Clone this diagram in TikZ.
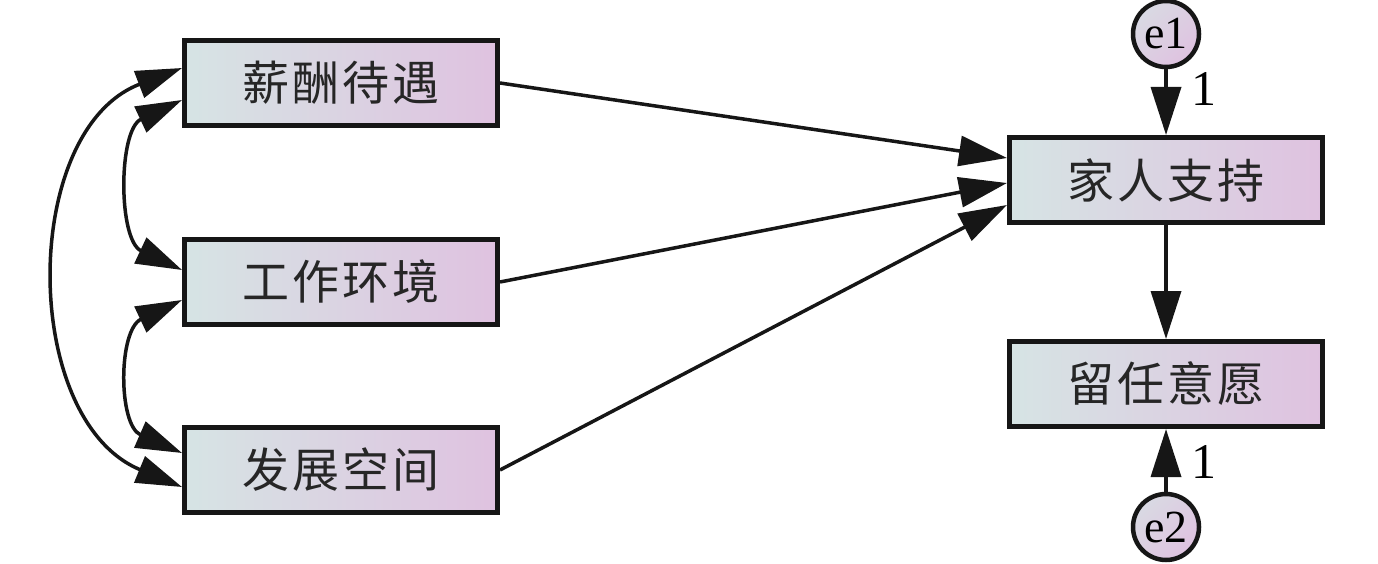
\documentclass[tikz,border=0pt]{standalone}
\usepackage{fontspec}
\setmainfont{Liberation Serif}
\newfontfamily\cjk{Noto Sans CJK SC}[LetterSpace=6]
\usetikzlibrary{arrows.meta}
\definecolor{lcol}{HTML}{D6E4E4}
\definecolor{rcol}{HTML}{DFC2E0}
\definecolor{edgecol}{HTML}{161616}
\tikzset{
  var/.style={draw=edgecol, line width=5pt, minimum width=313pt, minimum height=85pt,
    left color=lcol, right color=rcol, font=\cjk\fontsize{47}{50}\selectfont, text=black!85, inner sep=0pt},
  err/.style={circle, draw=edgecol, line width=4.5pt, minimum size=66pt, inner sep=0pt,
    shading=axis, left color=lcol!70!rcol, right color=rcol, shading angle=45, font=\fontsize{46}{48}\selectfont},
  arr/.style={line width=3.5pt, draw=edgecol, -{Triangle[length=48pt,width=30pt]}},
  cov/.style={line width=3.5pt, draw=edgecol, {Triangle[length=46pt,width=28pt]}-{Triangle[length=46pt,width=28pt]}},
  lab/.style={font=\fontsize{50}{52}\selectfont, inner sep=0pt}
}
\begin{document}
\begin{tikzpicture}[x=1pt,y=-1pt]
\useasboundingbox (0,0) rectangle (1378,564);
\node[var] (a) at (341,83) {薪酬待遇};
\node[var] (b) at (341,282) {工作环境};
\node[var] (c) at (341,470) {发展空间};
\node[var] (f) at (1166,180) {家人支持};
\node[var] (r) at (1166,384) {留任意愿};
\node[err] (e1) at (1166,34) {e1};
\node[err] (e2) at (1166,527) {e2};
\node[lab] (l1) at (1204,89) {1};
\node[lab] (l2) at (1204,462) {1};
\draw[arr] (a.east) -- ([yshift=22pt]f.west);
\draw[arr] (b.east) -- ([yshift=-3pt]f.west);
\draw[arr] (c.east) -- ([yshift=-25pt]f.west);
\draw[arr] (e1) -- (f);
\draw[arr] (f) -- (r);
\draw[arr] (e2) -- (r);
\draw[cov] ([yshift=-17pt]a.west) .. controls (118,130) and (118,240) .. ([yshift=12pt]b.west);
\draw[cov] ([yshift=-18pt]b.west) .. controls (118,330) and (118,425) .. ([yshift=17pt]c.west);
\draw[cov] ([yshift=15pt]a.west) .. controls (20,130) and (20,420) .. ([yshift=-17pt]c.west);
\end{tikzpicture}
\end{document}
